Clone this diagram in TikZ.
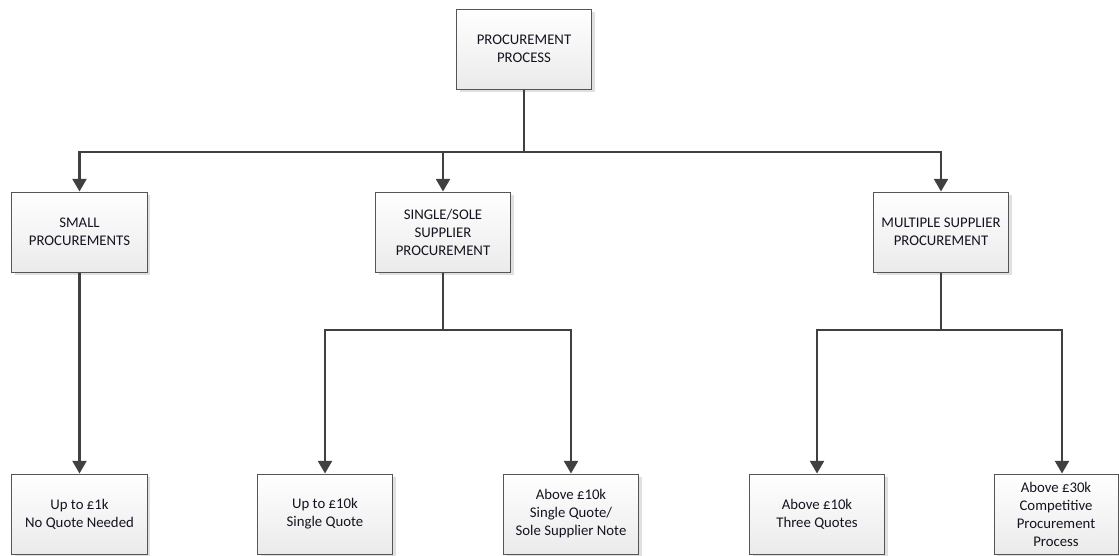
\documentclass[tikz,border=0pt]{standalone}
\usepackage{fontspec}
\setmainfont{Carlito}
\usetikzlibrary{arrows.meta,shadows}
\definecolor{linegray}{HTML}{404040}
\definecolor{boxedge}{HTML}{555555}
\definecolor{txtcol}{HTML}{141420}
\tikzset{
  box/.style={draw=boxedge, line width=0.7pt, top color=white, bottom color=black!8,
    drop shadow={shadow xshift=2.2pt, shadow yshift=-2.2pt, fill=black!12, opacity=1},
    minimum width=3.375cm, minimum height=2cm, inner sep=2pt, align=center,
    text=txtcol, font=\fontsize{10.5}{12.8}\selectfont},
  link/.style={draw=linegray, line width=1.5pt},
  arr/.style={link, -{Triangle[width=10pt,length=9pt]}}
}
\begin{document}
\begin{tikzpicture}[x=0.025cm,y=-0.025cm]
\useasboundingbox (0,0) rectangle (1119,555);
% top
\node[box] (proc) at (524,49) {PROCUREMENT\\PROCESS};
% middle row
\node[box] (small) at (79.5,232) {SMALL\\PROCUREMENTS};
\node[box] (single) at (443,232) {SINGLE/SOLE\\SUPPLIER\\PROCUREMENT};
\node[box] (multiple) at (941,232) {MULTIPLE SUPPLIER\\PROCUREMENT};
% bottom row
\node[box] (onek) at (79.5,514) {Up to £1k\\No Quote Needed};
\node[box] (tenk) at (325,514) {Up to £10k\\Single Quote};
\node[box] (abovetenk) at (571,514) {Above £10k\\Single Quote/\\Sole Supplier Note};
\node[box] (threeq) at (817,514) {Above £10k\\Three Quotes};
\node[box, minimum width=3.1cm] (thirtyk) at (1056,514) {Above £30k\\Competitive\\Procurement\\Process};
% connectors
\coordinate (splitA) at (524,152);
\coordinate (splitB) at (443,330);
\coordinate (splitC) at (941,330);
\draw[link] (proc.south) -- (splitA);
\draw[arr] (splitA) -| (small.north);
\draw[arr] (splitA) -| (single.north);
\draw[arr] (splitA) -| (multiple.north);
\draw[arr] (small.south) -- (onek.north);
\draw[link] (single.south) -- (splitB);
\draw[arr] (splitB) -| (tenk.north);
\draw[arr] (splitB) -| (abovetenk.north);
\draw[link] (multiple.south) -- (splitC);
\draw[arr] (splitC) -| (threeq.north);
\draw[arr] (splitC) -| ([xshift=6*0.025cm]thirtyk.north);
\end{tikzpicture}
\end{document}
